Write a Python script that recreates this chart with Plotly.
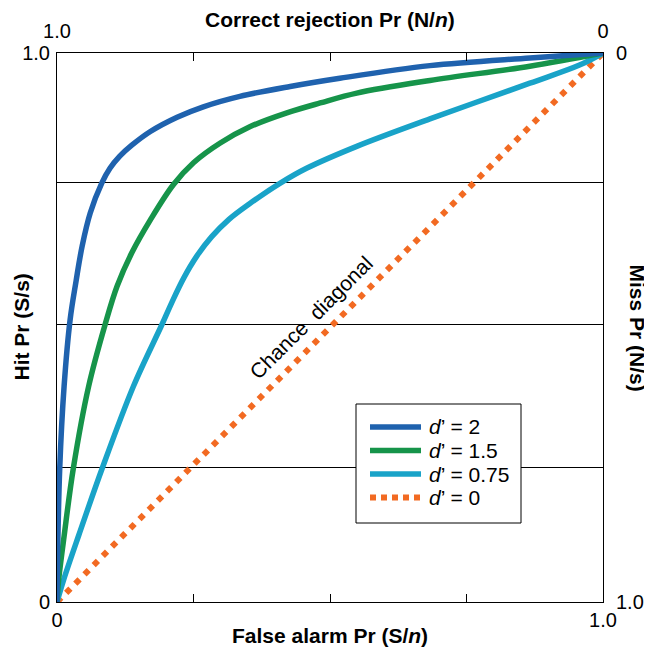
import plotly.graph_objects as go

# ---- data ----
blue_fa = [0, 0.001, 0.005, 0.013, 0.024, 0.035, 0.046, 0.061, 0.082, 0.097, 0.115, 0.137, 0.171, 0.220, 0.268, 0.335, 0.427, 0.518, 0.683, 0.866, 1.0]
blue_hit = [0, 0.08, 0.244, 0.393, 0.514, 0.585, 0.648, 0.709, 0.763, 0.790, 0.812, 0.832, 0.857, 0.883, 0.902, 0.921, 0.939, 0.954, 0.977, 0.991, 1.0]

green_fa = [0, 0.003, 0.013, 0.030, 0.058, 0.088, 0.110, 0.137, 0.171, 0.213, 0.250, 0.299, 0.354, 0.421, 0.482, 0.549, 0.683, 0.866, 1.0]
green_hit = [0, 0.04, 0.120, 0.244, 0.393, 0.505, 0.575, 0.636, 0.696, 0.760, 0.800, 0.836, 0.866, 0.891, 0.909, 0.927, 0.950, 0.976, 1.0]

cyan_fa = [0, 0.012, 0.040, 0.083, 0.140, 0.192, 0.210, 0.232, 0.256, 0.283, 0.315, 0.352, 0.409, 0.457, 0.549, 0.683, 0.866, 0.957, 1.0]
cyan_hit = [0, 0.04, 0.122, 0.244, 0.393, 0.505, 0.545, 0.590, 0.630, 0.665, 0.697, 0.725, 0.763, 0.790, 0.830, 0.880, 0.945, 0.978, 1.0]

chance_fa = [0, 1.0]
chance_hit = [0, 1.0]

series_names = ["<i>d</i>’ = 2", "<i>d</i>’ = 1.5", "<i>d</i>’ = 0.75", "<i>d</i>’ = 0"]
series_colors = ["#1f62ae", "#16944a", "#19a3c8", "#f26a22"]
bottom_ticks = [0, 0.25, 0.5, 0.75, 1.0]
bottom_labels = ["0", "", "", "", "1.0"]
top_labels = ["1.0", "", "", "", "0"]
grid_vals = [0, 0.245, 0.505, 0.765, 1.0]
left_labels = ["0", "", "", "", "1.0"]
right_labels = ["1.0", "", "", "", "0"]

FONT = "Liberation Sans, Arial, Helvetica, sans-serif"
TICK = 20
TITLE = 21

fig = go.Figure()
fig.add_trace(go.Scatter(x=chance_fa, y=chance_hit, mode="lines", name=series_names[3], showlegend=False,
                         line=dict(color=series_colors[3], width=6, dash="6px,7px")))
fig.add_trace(go.Scatter(x=cyan_fa, y=cyan_hit, mode="lines", name=series_names[2], showlegend=False,
                         line=dict(color=series_colors[2], width=5.5, shape="spline", smoothing=1.0)))
fig.add_trace(go.Scatter(x=green_fa, y=green_hit, mode="lines", name=series_names[1], showlegend=False,
                         line=dict(color=series_colors[1], width=5.5, shape="spline", smoothing=1.0)))
fig.add_trace(go.Scatter(x=blue_fa, y=blue_hit, mode="lines", name=series_names[0], showlegend=False,
                         line=dict(color=series_colors[0], width=5.5, shape="spline", smoothing=1.0)))
# invisible trace to anchor secondary axes
fig.add_trace(go.Scatter(x=[0, 1], y=[0, 1], xaxis="x2", yaxis="y2", mode="markers",
                         marker=dict(opacity=0), showlegend=False, hoverinfo="skip"))

axis_common = dict(range=[0, 1], showline=True, linecolor="black", linewidth=1, mirror=False,
                   zeroline=False, automargin=False,
                   tickfont=dict(family=FONT, size=TICK, color="black"), fixedrange=True)

# ---- legend box (drawn as shapes + annotations in paper space) ----
PLOT_L, PLOT_R, PLOT_T, PLOT_B = 57, 603, 53, 602
def px(x):
    return (x - PLOT_L) / (PLOT_R - PLOT_L)
def py(y):
    return (PLOT_B - y) / (PLOT_B - PLOT_T)

shapes = [dict(type="rect", xref="paper", yref="paper", x0=px(356), x1=px(521), y0=py(523), y1=py(404),
               line=dict(color="black", width=1), fillcolor="white", layer="above")]
annotations = []
row_y = [427, 450.5, 474, 497.5]
for i, name in enumerate(series_names):
    dash = "6px,5px" if i == 3 else "solid"
    shapes.append(dict(type="line", xref="paper", yref="paper", x0=px(370), x1=px(421),
                       y0=py(row_y[i]), y1=py(row_y[i]), layer="above",
                       line=dict(color=series_colors[i], width=6 if i == 3 else 5.5, dash=dash)))
    annotations.append(dict(text=name, x=px(427), y=py(row_y[i]), xref="paper", yref="paper",
                            xanchor="left", yanchor="middle", showarrow=False,
                            font=dict(family=FONT, size=21, color="black")))

annotations += [
    dict(text="<b>Correct rejection Pr (N/<i>n</i>)</b>", x=0.5, y=1, xref="paper", yref="paper",
         xanchor="center", yanchor="middle", yshift=34, showarrow=False, font=dict(size=TITLE)),
    dict(text="<b>False alarm Pr (S/<i>n</i>)</b>", x=0.5, y=0, xref="paper", yref="paper",
         xanchor="center", yanchor="middle", yshift=-33, showarrow=False, font=dict(size=TITLE)),
    dict(text="<b>Hit Pr (S/s)</b>", x=0, y=0.5, xref="paper", yref="paper", xshift=-36,
         xanchor="center", yanchor="middle", textangle=-90, showarrow=False, font=dict(size=TITLE)),
    dict(text="<b>Miss Pr (N/s)</b>", x=1, y=0.5, xref="paper", yref="paper", xshift=34,
         xanchor="center", yanchor="middle", textangle=90, showarrow=False, font=dict(size=TITLE)),
    dict(text="Chance  diagonal", x=0.465, y=0.519, xref="x", yref="y", textangle=-45,
         xanchor="center", yanchor="middle", showarrow=False, font=dict(size=21)),
]

# the page body adds an 8px margin, so the figure is 8px smaller and margins shifted
fig.update_layout(
    width=644, height=641,
    margin=dict(l=49, r=49, t=45, b=47),
    paper_bgcolor="white", plot_bgcolor="white",
    font=dict(family=FONT, size=17, color="black"),
    xaxis=dict(**axis_common, tickvals=bottom_ticks, ticktext=bottom_labels, ticks="inside",
               ticklen=8, tickcolor="black", showgrid=False),
    xaxis2=dict(**axis_common, overlaying="x", side="top", tickvals=bottom_ticks, ticktext=top_labels,
                ticks="inside", ticklen=8, tickcolor="black", showgrid=False, ticklabelstandoff=6),
    yaxis=dict(**axis_common, tickvals=grid_vals, ticktext=left_labels, ticks="",
               showgrid=True, gridcolor="black", gridwidth=1, ticklabelstandoff=2),
    yaxis2=dict(**axis_common, overlaying="y", side="right", tickvals=grid_vals, ticktext=right_labels,
                ticks="", showgrid=False, ticklabelstandoff=8),
    showlegend=False,
    shapes=shapes,
    annotations=annotations,
)

fig.write_html("out.html")
